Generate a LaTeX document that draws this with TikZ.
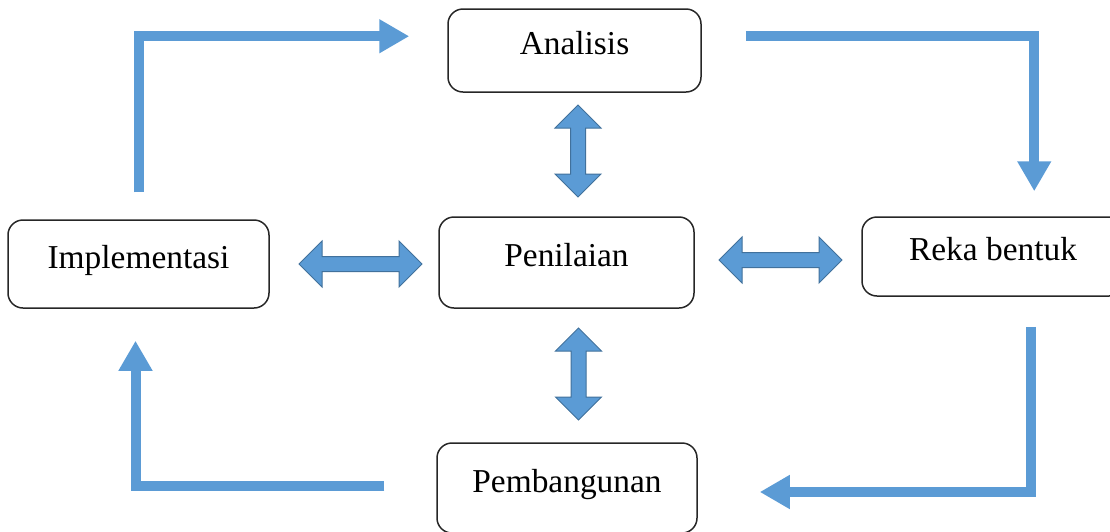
\documentclass[tikz,border=0pt]{standalone}
\usepackage{fontspec}
\setmainfont{Liberation Serif}
\usetikzlibrary{positioning,calc,arrows.meta,shapes.arrows}
\definecolor{flowblue}{HTML}{5B9BD5}
\definecolor{edgeblue}{HTML}{41719C}
\tikzset{block/.style={draw=black!85, line width=0.75pt, rounded corners=7.5pt, inner sep=0pt, align=center, text height=11pt, text depth=7pt, font=\fontsize{16.7pt}{20pt}\selectfont},
         line/.style={draw=flowblue, line width=5pt, line join=miter, -{Triangle[length=15pt,width=16pt]}},
         twoway/.style={double arrow, draw=edgeblue, line width=0.5pt, fill=flowblue, inner sep=0pt, text height=3.5pt, text depth=3.5pt, double arrow head extend=7.75pt, minimum height=46pt}}

\begin{document}
\begin{tikzpicture}[x=0.5pt,y=-0.5pt]
    \useasboundingbox (0,0) rectangle (1110,531);

    \node[block, minimum width=126.5pt, minimum height=41.5pt] (ana)  at (574.5,50.5) {Analisis};
    \node[block, minimum width=127.5pt, minimum height=45.5pt] (pen)  at (566.5,262.5) {Penilaian};
    \node[block, minimum width=130.5pt, minimum height=44pt]   (impl) at (138.5,264) {Implementasi};
    \node[block, minimum width=131pt,   minimum height=39.5pt] (reka) at (993,256.5) {Reka bentuk};
    \node[block, minimum width=130pt,   minimum height=45pt]   (pemb) at (567,488) {Pembangunan};

    % two-way arrows round Penilaian
    \node[twoway, rotate=90]             (ap) at (578,151)   {};
    \node[twoway, rotate=90]             (pp) at (578.5,374) {};
    \node[twoway, minimum height=61.5pt] (ip) at (360.5,264) {};
    \node[twoway, minimum height=61.5pt] (pr) at (780.5,260) {};

    % the cycle
    \draw[line] ([yshift=13.5pt]impl.north) |- ([xshift=-19pt,yshift=-14pt]ana.north west);
    \draw[line] ([xshift=22pt,yshift=-14pt]ana.north east) -| ([xshift=86.5pt,yshift=12.5pt]reka.north west);
    \draw[line] ([xshift=85pt,yshift=-15pt]reka.south west) |- ([xshift=31pt,yshift=-2pt]pemb.east);
    \draw[line] ([xshift=-26pt,yshift=1pt]pemb.west) -| ([xshift=-1.5pt,yshift=-16pt]impl.south);
\end{tikzpicture}
\end{document}
